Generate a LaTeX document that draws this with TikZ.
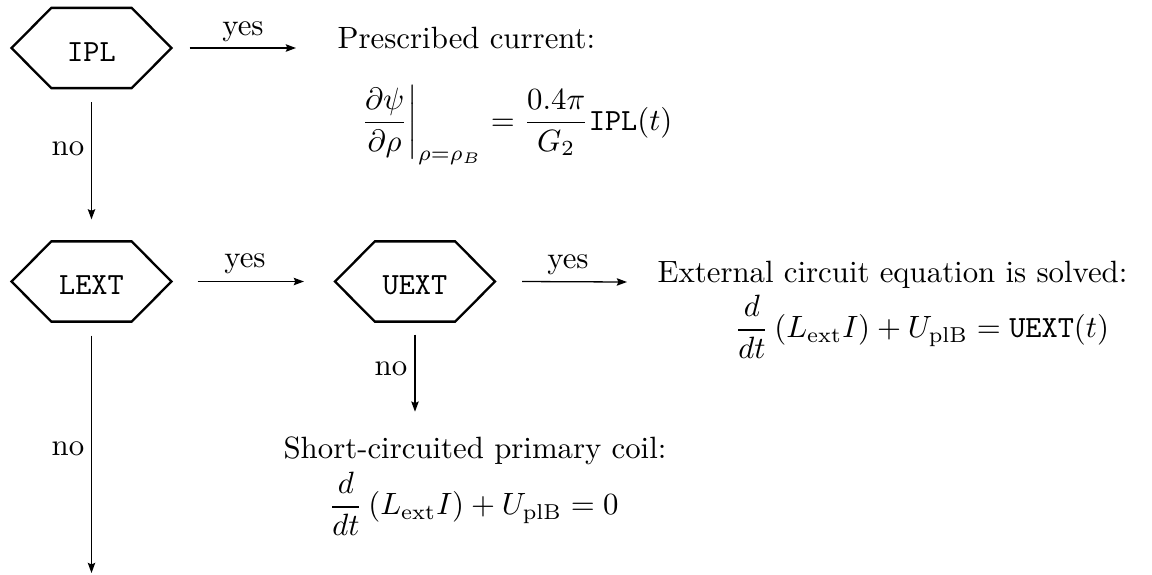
\documentclass[tikz,border=0pt]{standalone}
\usepackage{amsmath}
\usetikzlibrary{calc,arrows.meta}
\tikzset{
  hexnode/.style={inner sep=0pt, minimum width=51.6pt, minimum height=25.65pt,
    text height=8.6pt, text depth=0pt, font=\ttfamily},
  hexline/.style={line width=0.75pt, line join=miter},
  arr/.style={line width=0.42pt, -{Stealth[length=3.3pt,width=2.4pt,inset=0.5pt]}},
  txt/.style={inner sep=0pt, anchor=base west},
  lbl/.style={inner sep=0pt, anchor=base},
}
\newcommand{\hexdraw}[1]{%
  \draw[hexline] (#1.west) -- ($(#1.north west)+(40,0)$) -- ($(#1.north east)+(-40,0)$)
    -- (#1.east) -- ($(#1.south east)+(-40,0)$) -- ($(#1.south west)+(40,0)$) -- cycle;}
\begin{document}
\begin{tikzpicture}[x=0.3247pt, y=-0.3247pt]
\useasboundingbox (0,0) rectangle (1152,574);

% decision nodes
\node[hexnode] (ipl)  at (91.5,48)  {IPL};
\node[hexnode] (lext) at (91.5,281.5) {LEXT};
\node[hexnode] (uext) at (415,281.5) {UEXT};
\hexdraw{ipl}
\hexdraw{lext}
\hexdraw{uext}

% texts
\node[txt] (pres) at (337,48) {Prescribed current:};
\node[txt] (presf) at (357,130) {$\displaystyle \left.\frac{\partial\psi}{\partial\rho}\right|_{\rho=\rho_B} = \frac{0.4\pi}{G_2}\texttt{IPL}(t)$};
\node[txt] (ext) at (657,282) {External circuit equation is solved:};
\node[txt] (extf) at (734,337.7) {$\displaystyle \frac{d}{dt}\left(L_{\mathrm{ext}}I\right)+U_{\mathrm{plB}}=\texttt{UEXT}(t)$};
\node[txt] (short) at (283,458) {Short-circuited primary coil:};
\node[txt] (shortf) at (328,514.7) {$\displaystyle \frac{d}{dt}\left(L_{\mathrm{ext}}I\right)+U_{\mathrm{plB}}=0$};

% connectors
\draw[arr] ($(ipl.east)+(18,0)$) -- ($(pres.base west)+(-41,0)$);
\draw[arr] ($(ipl.south)+(0,14)$) -- ($(lext.north)+(0,-22)$);
\draw[arr] ($(lext.east)+(26,0)$) -- ($(uext.west)+(-31,0)$);
\draw[arr] ($(uext.east)+(27,0)$) -- ($(ext.base west)+(-30,0)$);
\draw[arr] ($(uext.south)+(0,13)$) -- ($(uext.south |- short.north)+(0,-24)$);
\coordinate (lend) at (91.5,573);
\draw[arr] ($(lext.south)+(0,14)$) -- (lend);

% labels
\node[lbl] (y1) at (243,35) {yes};
\node[lbl] (y2) at (245,267) {yes};
\node[lbl] (y3) at (568,268) {yes};
\node[lbl] (n1) at (68,155) {no};
\node[lbl] (n2) at (68,455) {no};
\node[lbl] (n3) at (391,375) {no};
\end{tikzpicture}
\end{document}
